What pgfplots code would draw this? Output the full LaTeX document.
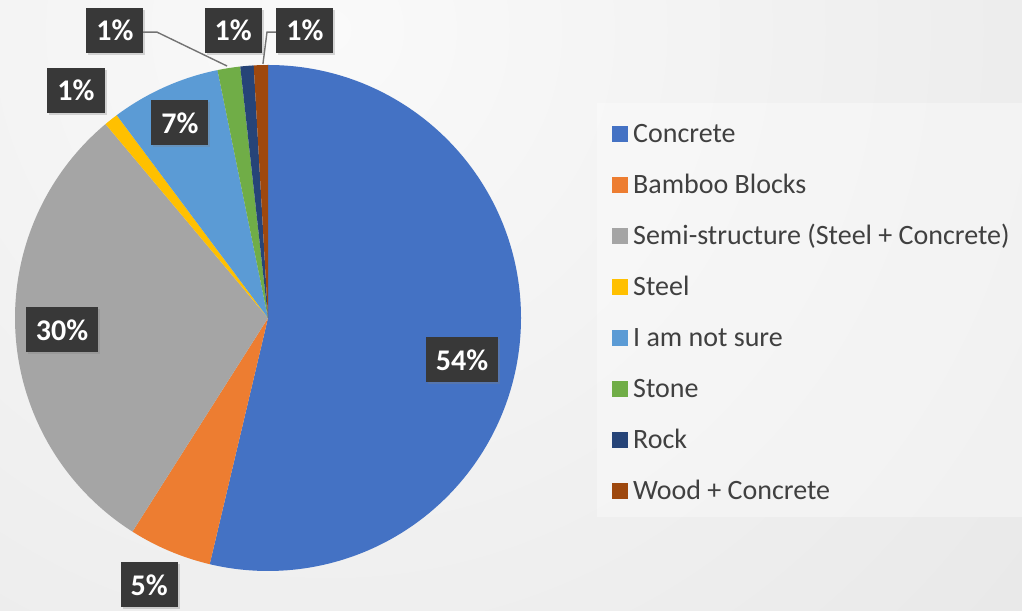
\documentclass[border=0pt]{standalone}
\usepackage{pgfplots}
\usepackage{pgfplotstable}
\pgfplotsset{compat=1.18}
\usepackage{fontspec}
\setmainfont{Carlito}
\usetikzlibrary{shadows}

\definecolor{c0}{HTML}{4472C4}
\definecolor{c1}{HTML}{ED7D31}
\definecolor{c2}{HTML}{A5A5A5}
\definecolor{c3}{HTML}{FFC000}
\definecolor{c4}{HTML}{5B9BD5}
\definecolor{c5}{HTML}{70AD47}
\definecolor{c6}{HTML}{264478}
\definecolor{c7}{HTML}{9E480E}

\tikzset{lab/.style={fill=black!78, text=white,
    font=\bfseries\fontsize{15}{17}\selectfont,
    minimum height=22.5pt, inner xsep=5pt, inner ysep=0pt,
    drop shadow={opacity=0.3, shadow xshift=1pt, shadow yshift=-1pt}}}

% share in percent, label position in axis units (radius = 1)
\pgfplotstableread{
name      pct    lx      ly
Concrete  53.7   0.767  -0.166
Bamboo    5.3   -0.470  -1.055
Semi      29.9  -0.814  -0.047
Steel     0.9   -0.759   0.901
Unsure    7.0   -0.348   0.771
Stone     1.45  -0.605   1.138
Rock      0.85  -0.138   1.138
Wood      0.9    0.146   1.138
}\piedata
\pgfplotstablecreatecol[create col/expr accum={\pgfmathaccuma+\thisrow{pct}}{0}]{cum}\piedata

\begin{document}
\begin{tikzpicture}[x=1pt,y=1pt]
\useasboundingbox (0,0) rectangle (511,305);
\begin{scope}
  \clip (0,0) rectangle (511,305);
  \fill[black!16] (0,0) rectangle (511,305);
  \shade[inner color=black!2, outer color=black!16] (165,290) circle (940);
\end{scope}
\fill[white, opacity=0.35] (298.5,46.5) rectangle (511,253.5);

\begin{axis}[
  x=126.5pt, y=126.5pt,
  xmin=-1, xmax=1, ymin=-1, ymax=1,
  at={(7.5pt,19.5pt)}, anchor=south west,
  hide axis, clip=false,
  legend image code/.code={\fill[#1] (0pt,-2.5pt) rectangle (7.5pt,5pt);},
  legend cell align=left,
  legend style={draw=none, fill=none,
    at={(axis description cs:1.1798,0.8834)}, anchor=north west,
    inner sep=0pt, row sep=13.5pt,
    font=\fontsize{14}{16}\selectfont,
    nodes={inner sep=0pt, text height=9pt, text depth=3pt, text=black!75},
    /tikz/every odd column/.append style={column sep=2.5pt}},
]
% slices, clockwise from 12 o'clock
\pgfplotsinvokeforeach{0,...,7}{
  \pgfplotstablegetelem{#1}{pct}\of\piedata \let\pieP\pgfplotsretval
  \pgfplotstablegetelem{#1}{cum}\of\piedata \let\pieC\pgfplotsretval
  \pgfmathsetmacro\aS{90-3.6*(\pieC-\pieP)}
  \pgfmathsetmacro\aE{90-3.6*\pieC}
  \edef\tmp{\noexpand\fill[c#1] (axis cs:0,0) -- (axis cs:{cos(\aS)},{sin(\aS)})
    arc[start angle=\aS, end angle=\aE, radius=126.5pt] -- cycle;}
  \tmp
}
% leader lines
\draw[black!55, line width=0.7pt] (axis cs:-0.494,1.130) -- (axis cs:-0.439,1.130) -- (axis cs:-0.162,0.996);
\draw[black!55, line width=0.7pt] (axis cs:0.040,1.130) -- (axis cs:-0.004,1.130) -- (axis cs:-0.020,1.004);
% data labels
\pgfplotsinvokeforeach{0,...,7}{
  \pgfplotstablegetelem{#1}{pct}\of\piedata \let\pieP\pgfplotsretval
  \pgfplotstablegetelem{#1}{lx}\of\piedata \let\pieX\pgfplotsretval
  \pgfplotstablegetelem{#1}{ly}\of\piedata \let\pieY\pgfplotsretval
  \pgfmathtruncatemacro\lbl{round(\pieP)}
  \edef\tmp{\noexpand\node[lab] at (axis cs:\pieX,\pieY) {\lbl\noexpand\%};}
  \tmp
}
\addlegendimage{c0}\addlegendentry{Concrete}
\addlegendimage{c1}\addlegendentry{Bamboo Blocks}
\addlegendimage{c2}\addlegendentry{Semi-structure (Steel + Concrete)}
\addlegendimage{c3}\addlegendentry{Steel}
\addlegendimage{c4}\addlegendentry{I am not sure}
\addlegendimage{c5}\addlegendentry{Stone}
\addlegendimage{c6}\addlegendentry{Rock}
\addlegendimage{c7}\addlegendentry{Wood + Concrete}
\end{axis}
\end{tikzpicture}
\end{document}
